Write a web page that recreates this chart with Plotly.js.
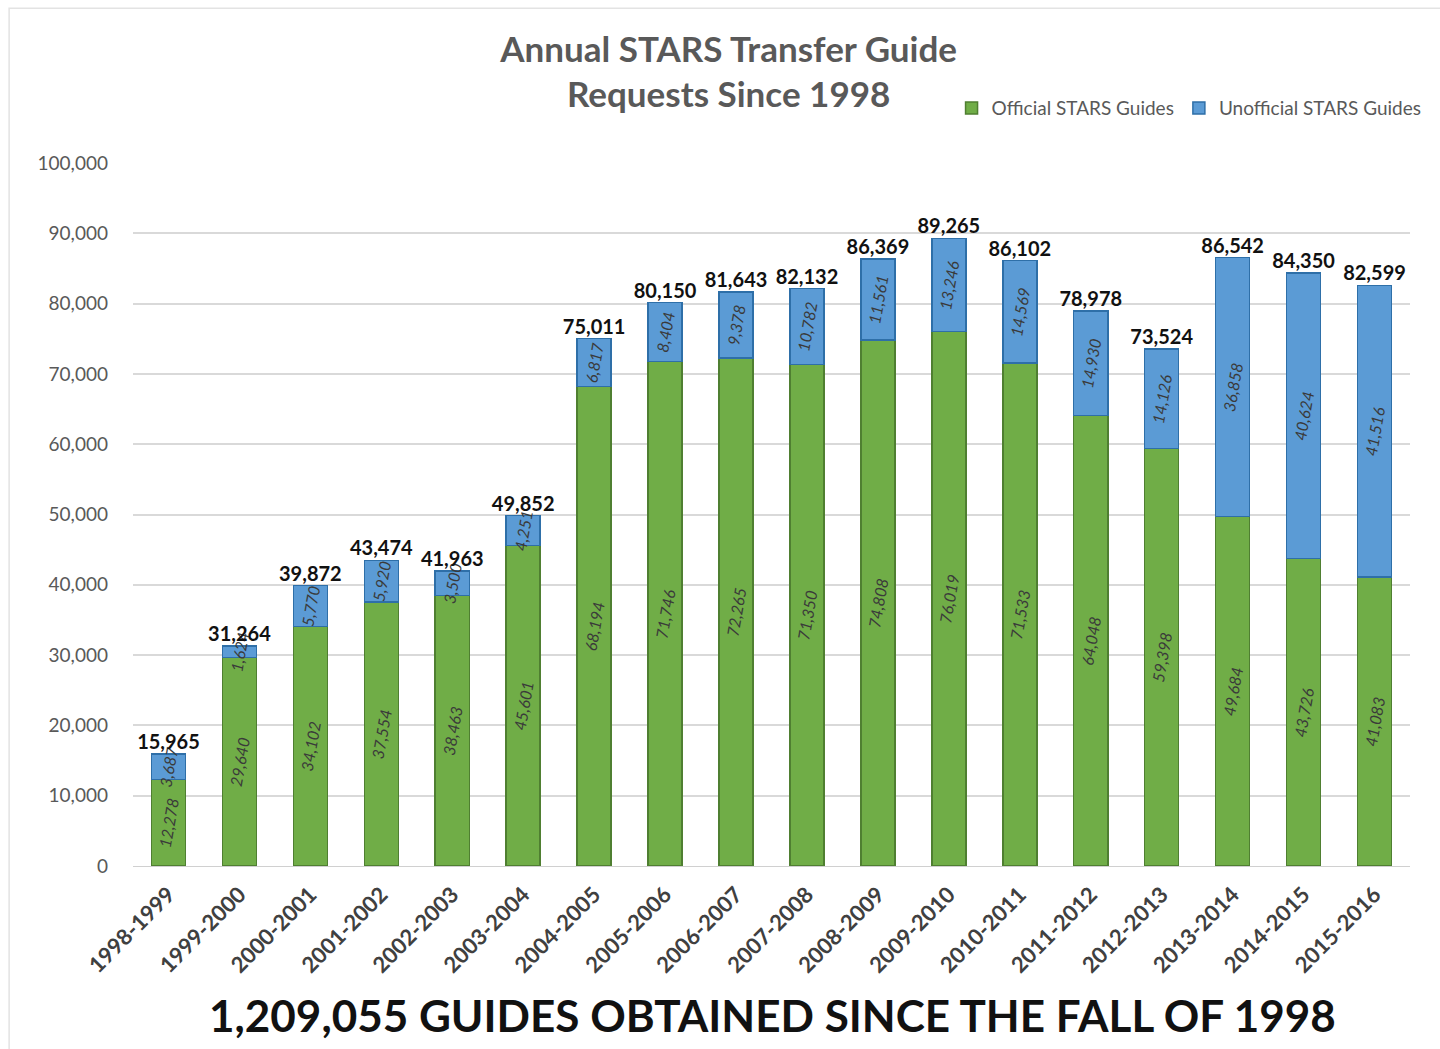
<!DOCTYPE html>
<html>
<head>
<meta charset="utf-8">
<script src="https://cdn.plot.ly/plotly-3.0.1.min.js"></script>
<style>
  html, body { margin: 0; padding: 0; background: #fff; }
  #myDiv { width: 1440px; height: 1049px; }
</style>
</head>
<body>
<div id="myDiv"></div>
<script>
// STARS transfer guide requests, per academic year
const years = [
  '1998-1999', '1999-2000', '2000-2001', '2001-2002', '2002-2003', '2003-2004',
  '2004-2005', '2005-2006', '2006-2007', '2007-2008', '2008-2009', '2009-2010',
  '2010-2011', '2011-2012', '2012-2013', '2013-2014', '2014-2015', '2015-2016'
];
const official = [12278, 29640, 34102, 37554, 38463, 45601, 68194, 71746, 72265,
  71350, 74808, 76019, 71533, 64048, 59398, 49684, 43726, 41083];
const unofficial = [3687, 1624, 5770, 5920, 3500, 4251, 6817, 8404, 9378,
  10782, 11561, 13246, 14569, 14930, 14126, 36858, 40624, 41516];
const totals = [15965, 31264, 39872, 43474, 41963, 49852, 75011, 80150, 81643,
  82132, 86369, 89265, 86102, 78978, 73524, 86542, 84350, 82599];

const fmt = (v) => v.toLocaleString('en-US');
const baseFont = 'Lato, "Open Sans", sans-serif';

const insideText = {
  textposition: 'inside',
  insidetextanchor: 'middle',
  textangle: -80,
  constraintext: 'none',
  textfont: { family: baseFont, size: 16, color: '#3a3a3a', style: 'italic' },
  hoverinfo: 'x+y+name'
};

const traces = [
  {
    type: 'bar',
    name: 'Official STARS Guides',
    x: years,
    y: official,
    text: official.map(fmt),
    marker: { color: '#70ad47', line: { color: '#4f7f31', width: 1.5 } },
    ...insideText
  },
  {
    type: 'bar',
    name: 'Unofficial STARS Guides',
    x: years,
    y: unofficial,
    text: unofficial.map(fmt),
    marker: { color: '#5b9bd5', line: { color: '#2e6fa8', width: 1.5 } },
    ...insideText
  },
  {
    // totals sitting on top of each stack
    type: 'scatter',
    mode: 'text',
    x: years,
    y: totals,
    text: totals.map(fmt),
    textposition: 'top center',
    textfont: { family: baseFont, size: 20, color: '#111', weight: 'bold' },
    showlegend: false,
    hoverinfo: 'skip',
    cliponaxis: false
  }
];

const layout = {
  width: 1440,
  height: 1049,
  barmode: 'stack',
  bargap: 0.52,
  paper_bgcolor: '#fff',
  plot_bgcolor: '#fff',
  font: { family: baseFont, color: '#595959' },
  title: {
    text: 'Annual STARS Transfer Guide<br>Requests Since 1998',
    font: { family: baseFont, size: 35, color: '#595959', weight: 'bold' },
    x: 0.506,
    xanchor: 'center',
    yref: 'container',
    y: 0.941,
    yanchor: 'middle'
  },
  legend: {
    orientation: 'h',
    x: 0.641,
    y: 1.078,
    xanchor: 'left',
    yanchor: 'middle',
    font: { family: baseFont, size: 19, color: '#595959' },
    traceorder: 'normal',
    itemwidth: 30
  },
  xaxis: {
    type: 'category',
    range: [-0.5, 17.5],
    tickangle: -45,
    tickfont: { family: baseFont, size: 22, color: '#404040', weight: 'bold' },
    ticklabelstandoff: 6,
    showgrid: false,
    showline: true,
    linecolor: '#d0d0d0',
    ticks: ''
  },
  yaxis: {
    range: [0, 100000],
    dtick: 10000,
    tickformat: ',d',
    tickfont: { family: baseFont, size: 19, color: '#595959' },
    gridcolor: '#d9d9d9',
    gridwidth: 1.5,
    zeroline: false,
    ticklabelstandoff: 24
  },
  margin: { l: 133, r: 30, t: 163, b: 183 },
  annotations: [
    {
      text: '1,209,055 GUIDES OBTAINED SINCE THE FALL OF 1998',
      xref: 'paper', yref: 'paper',
      x: 0.501, y: -0.212,
      xanchor: 'center', yanchor: 'middle',
      showarrow: false,
      font: { family: baseFont, size: 44, color: '#111', weight: 'bold' }
    }
  ],
  shapes: [
    {
      type: 'rect', xref: 'paper', yref: 'paper',
      x0: -0.097, x1: 1.05, y0: -0.3, y1: 1.22,
      line: { color: '#e3e3e3', width: 1.5 }
    }
  ]
};

Plotly.newPlot('myDiv', traces, layout, { displayModeBar: false });
document.title = 'Annual STARS Transfer Guide Requests';
</script>
</body>
</html>
